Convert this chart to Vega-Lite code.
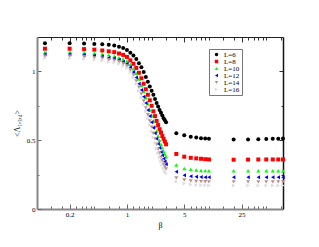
{
  "$schema": "https://vega.github.io/schema/vega-lite/v6.json",
  "width": 246,
  "height": 172,
  "autosize": "none",
  "padding": {"left": 37, "top": 37, "right": 36, "bottom": 38},
  "background": "white",
  "config": {
    "font": "Liberation Serif",
    "view": {"stroke": null},
    "axis": {"grid": false, "labelFont": "Liberation Serif", "titleFont": "Liberation Serif", "labelFontSize": 7, "titleFontSize": 8, "titleFontWeight": "normal", "labelColor": "#000", "titleColor": "#000"},
    "legend": {"labelFont": "Liberation Serif"}
  },
  "data": {"values": [
    {"L":"L=6","b":0.1,"v":1.205},{"L":"L=6","b":0.2,"v":1.205},{"L":"L=6","b":0.3,"v":1.203},{"L":"L=6","b":0.4,"v":1.2},{"L":"L=6","b":0.5,"v":1.198},{"L":"L=6","b":0.6,"v":1.194},{"L":"L=6","b":0.7,"v":1.188},{"L":"L=6","b":0.8,"v":1.18},{"L":"L=6","b":0.9,"v":1.17},{"L":"L=6","b":1.0,"v":1.155},
    {"L":"L=6","b":1.1,"v":1.135},{"L":"L=6","b":1.2,"v":1.115},{"L":"L=6","b":1.3,"v":1.09},{"L":"L=6","b":1.4,"v":1.06},{"L":"L=6","b":1.5,"v":1.03},{"L":"L=6","b":1.6,"v":0.995},{"L":"L=6","b":1.7,"v":0.96},{"L":"L=6","b":1.8,"v":0.925},{"L":"L=6","b":1.9,"v":0.89},{"L":"L=6","b":2.0,"v":0.86},
    {"L":"L=6","b":2.1,"v":0.83},{"L":"L=6","b":2.2,"v":0.8},{"L":"L=6","b":2.3,"v":0.77},{"L":"L=6","b":2.4,"v":0.745},{"L":"L=6","b":2.5,"v":0.72},{"L":"L=6","b":2.6,"v":0.7},{"L":"L=6","b":2.7,"v":0.68},{"L":"L=6","b":2.8,"v":0.66},{"L":"L=6","b":2.9,"v":0.645},{"L":"L=6","b":3.0,"v":0.63},
    {"L":"L=6","b":4,"v":0.55},{"L":"L=6","b":5,"v":0.536},{"L":"L=6","b":6,"v":0.525},{"L":"L=6","b":7,"v":0.52},{"L":"L=6","b":8,"v":0.515},{"L":"L=6","b":9,"v":0.512},{"L":"L=6","b":10,"v":0.51},{"L":"L=6","b":20,"v":0.505},{"L":"L=6","b":30,"v":0.505},{"L":"L=6","b":40,"v":0.507},{"L":"L=6","b":50,"v":0.508},{"L":"L=6","b":60,"v":0.51},{"L":"L=6","b":70,"v":0.511},{"L":"L=6","b":80,"v":0.512},

    {"L":"L=8","b":0.1,"v":1.165},{"L":"L=8","b":0.2,"v":1.165},{"L":"L=8","b":0.3,"v":1.162},{"L":"L=8","b":0.4,"v":1.158},{"L":"L=8","b":0.5,"v":1.152},{"L":"L=8","b":0.6,"v":1.146},{"L":"L=8","b":0.7,"v":1.14},{"L":"L=8","b":0.8,"v":1.13},{"L":"L=8","b":0.9,"v":1.12},{"L":"L=8","b":1.0,"v":1.105},
    {"L":"L=8","b":1.1,"v":1.08},{"L":"L=8","b":1.2,"v":1.055},{"L":"L=8","b":1.3,"v":1.025},{"L":"L=8","b":1.4,"v":0.99},{"L":"L=8","b":1.5,"v":0.95},{"L":"L=8","b":1.6,"v":0.91},{"L":"L=8","b":1.7,"v":0.87},{"L":"L=8","b":1.8,"v":0.83},{"L":"L=8","b":1.9,"v":0.79},{"L":"L=8","b":2.0,"v":0.75},
    {"L":"L=8","b":2.1,"v":0.71},{"L":"L=8","b":2.2,"v":0.675},{"L":"L=8","b":2.3,"v":0.64},{"L":"L=8","b":2.4,"v":0.61},{"L":"L=8","b":2.5,"v":0.58},{"L":"L=8","b":2.6,"v":0.555},{"L":"L=8","b":2.7,"v":0.53},{"L":"L=8","b":2.8,"v":0.51},{"L":"L=8","b":2.9,"v":0.49},{"L":"L=8","b":3.0,"v":0.47},
    {"L":"L=8","b":4,"v":0.4},{"L":"L=8","b":5,"v":0.38},{"L":"L=8","b":6,"v":0.372},{"L":"L=8","b":7,"v":0.368},{"L":"L=8","b":8,"v":0.365},{"L":"L=8","b":9,"v":0.362},{"L":"L=8","b":10,"v":0.36},{"L":"L=8","b":20,"v":0.358},{"L":"L=8","b":30,"v":0.359},{"L":"L=8","b":40,"v":0.36},{"L":"L=8","b":50,"v":0.36},{"L":"L=8","b":60,"v":0.36},{"L":"L=8","b":70,"v":0.36},{"L":"L=8","b":80,"v":0.36},

    {"L":"L=10","b":0.1,"v":1.14},{"L":"L=10","b":0.2,"v":1.14},{"L":"L=10","b":0.3,"v":1.136},{"L":"L=10","b":0.4,"v":1.132},{"L":"L=10","b":0.5,"v":1.126},{"L":"L=10","b":0.6,"v":1.12},{"L":"L=10","b":0.7,"v":1.11},{"L":"L=10","b":0.8,"v":1.1},{"L":"L=10","b":0.9,"v":1.09},{"L":"L=10","b":1.0,"v":1.075},
    {"L":"L=10","b":1.1,"v":1.05},{"L":"L=10","b":1.2,"v":1.02},{"L":"L=10","b":1.3,"v":0.985},{"L":"L=10","b":1.4,"v":0.945},{"L":"L=10","b":1.5,"v":0.9},{"L":"L=10","b":1.6,"v":0.855},{"L":"L=10","b":1.7,"v":0.81},{"L":"L=10","b":1.8,"v":0.765},{"L":"L=10","b":1.9,"v":0.72},{"L":"L=10","b":2.0,"v":0.68},
    {"L":"L=10","b":2.1,"v":0.64},{"L":"L=10","b":2.2,"v":0.6},{"L":"L=10","b":2.3,"v":0.565},{"L":"L=10","b":2.4,"v":0.53},{"L":"L=10","b":2.5,"v":0.5},{"L":"L=10","b":2.6,"v":0.47},{"L":"L=10","b":2.7,"v":0.445},{"L":"L=10","b":2.8,"v":0.42},{"L":"L=10","b":2.9,"v":0.4},{"L":"L=10","b":3.0,"v":0.38},
    {"L":"L=10","b":4,"v":0.32},{"L":"L=10","b":5,"v":0.295},{"L":"L=10","b":6,"v":0.288},{"L":"L=10","b":7,"v":0.283},{"L":"L=10","b":8,"v":0.28},{"L":"L=10","b":9,"v":0.279},{"L":"L=10","b":10,"v":0.278},{"L":"L=10","b":20,"v":0.278},{"L":"L=10","b":30,"v":0.278},{"L":"L=10","b":40,"v":0.278},{"L":"L=10","b":50,"v":0.278},{"L":"L=10","b":60,"v":0.278},{"L":"L=10","b":70,"v":0.278},{"L":"L=10","b":80,"v":0.278},

    {"L":"L=12","b":0.1,"v":1.125},{"L":"L=12","b":0.2,"v":1.125},{"L":"L=12","b":0.3,"v":1.121},{"L":"L=12","b":0.4,"v":1.116},{"L":"L=12","b":0.5,"v":1.11},{"L":"L=12","b":0.6,"v":1.1},{"L":"L=12","b":0.7,"v":1.095},{"L":"L=12","b":0.8,"v":1.085},{"L":"L=12","b":0.9,"v":1.07},{"L":"L=12","b":1.0,"v":1.055},
    {"L":"L=12","b":1.1,"v":1.03},{"L":"L=12","b":1.2,"v":0.995},{"L":"L=12","b":1.3,"v":0.955},{"L":"L=12","b":1.4,"v":0.91},{"L":"L=12","b":1.5,"v":0.865},{"L":"L=12","b":1.6,"v":0.815},{"L":"L=12","b":1.7,"v":0.77},{"L":"L=12","b":1.8,"v":0.72},{"L":"L=12","b":1.9,"v":0.675},{"L":"L=12","b":2.0,"v":0.63},
    {"L":"L=12","b":2.1,"v":0.59},{"L":"L=12","b":2.2,"v":0.55},{"L":"L=12","b":2.3,"v":0.51},{"L":"L=12","b":2.4,"v":0.475},{"L":"L=12","b":2.5,"v":0.445},{"L":"L=12","b":2.6,"v":0.415},{"L":"L=12","b":2.7,"v":0.39},{"L":"L=12","b":2.8,"v":0.365},{"L":"L=12","b":2.9,"v":0.345},{"L":"L=12","b":3.0,"v":0.325},
    {"L":"L=12","b":4,"v":0.27},{"L":"L=12","b":5,"v":0.246},{"L":"L=12","b":6,"v":0.238},{"L":"L=12","b":7,"v":0.235},{"L":"L=12","b":8,"v":0.232},{"L":"L=12","b":9,"v":0.231},{"L":"L=12","b":10,"v":0.23},{"L":"L=12","b":20,"v":0.23},{"L":"L=12","b":30,"v":0.23},{"L":"L=12","b":40,"v":0.23},{"L":"L=12","b":50,"v":0.23},{"L":"L=12","b":60,"v":0.23},{"L":"L=12","b":70,"v":0.23},{"L":"L=12","b":80,"v":0.23},

    {"L":"L=14","b":0.1,"v":1.11},{"L":"L=14","b":0.2,"v":1.11},{"L":"L=14","b":0.3,"v":1.106},{"L":"L=14","b":0.4,"v":1.1},{"L":"L=14","b":0.5,"v":1.095},{"L":"L=14","b":0.6,"v":1.085},{"L":"L=14","b":0.7,"v":1.08},{"L":"L=14","b":0.8,"v":1.07},{"L":"L=14","b":0.9,"v":1.055},{"L":"L=14","b":1.0,"v":1.04},
    {"L":"L=14","b":1.1,"v":1.01},{"L":"L=14","b":1.2,"v":0.975},{"L":"L=14","b":1.3,"v":0.93},{"L":"L=14","b":1.4,"v":0.885},{"L":"L=14","b":1.5,"v":0.835},{"L":"L=14","b":1.6,"v":0.785},{"L":"L=14","b":1.7,"v":0.735},{"L":"L=14","b":1.8,"v":0.685},{"L":"L=14","b":1.9,"v":0.64},{"L":"L=14","b":2.0,"v":0.595},
    {"L":"L=14","b":2.1,"v":0.55},{"L":"L=14","b":2.2,"v":0.51},{"L":"L=14","b":2.3,"v":0.47},{"L":"L=14","b":2.4,"v":0.435},{"L":"L=14","b":2.5,"v":0.405},{"L":"L=14","b":2.6,"v":0.375},{"L":"L=14","b":2.7,"v":0.35},{"L":"L=14","b":2.8,"v":0.325},{"L":"L=14","b":2.9,"v":0.305},{"L":"L=14","b":3.0,"v":0.29},
    {"L":"L=14","b":4,"v":0.225},{"L":"L=14","b":5,"v":0.21},{"L":"L=14","b":6,"v":0.203},{"L":"L=14","b":7,"v":0.2},{"L":"L=14","b":8,"v":0.199},{"L":"L=14","b":9,"v":0.198},{"L":"L=14","b":10,"v":0.197},{"L":"L=14","b":20,"v":0.197},{"L":"L=14","b":30,"v":0.197},{"L":"L=14","b":40,"v":0.197},{"L":"L=14","b":50,"v":0.197},{"L":"L=14","b":60,"v":0.197},{"L":"L=14","b":70,"v":0.197},{"L":"L=14","b":80,"v":0.197},

    {"L":"L=16","b":0.1,"v":1.095},{"L":"L=16","b":0.2,"v":1.095},{"L":"L=16","b":0.3,"v":1.09},{"L":"L=16","b":0.4,"v":1.085},{"L":"L=16","b":0.5,"v":1.08},{"L":"L=16","b":0.6,"v":1.07},{"L":"L=16","b":0.7,"v":1.065},{"L":"L=16","b":0.8,"v":1.055},{"L":"L=16","b":0.9,"v":1.04},{"L":"L=16","b":1.0,"v":1.025},
    {"L":"L=16","b":1.1,"v":0.995},{"L":"L=16","b":1.2,"v":0.955},{"L":"L=16","b":1.3,"v":0.91},{"L":"L=16","b":1.4,"v":0.86},{"L":"L=16","b":1.5,"v":0.81},{"L":"L=16","b":1.6,"v":0.76},{"L":"L=16","b":1.7,"v":0.71},{"L":"L=16","b":1.8,"v":0.66},{"L":"L=16","b":1.9,"v":0.61},{"L":"L=16","b":2.0,"v":0.565},
    {"L":"L=16","b":2.1,"v":0.52},{"L":"L=16","b":2.2,"v":0.48},{"L":"L=16","b":2.3,"v":0.44},{"L":"L=16","b":2.4,"v":0.405},{"L":"L=16","b":2.5,"v":0.375},{"L":"L=16","b":2.6,"v":0.345},{"L":"L=16","b":2.7,"v":0.32},{"L":"L=16","b":2.8,"v":0.295},{"L":"L=16","b":2.9,"v":0.275},{"L":"L=16","b":3.0,"v":0.26},
    {"L":"L=16","b":4,"v":0.2},{"L":"L=16","b":5,"v":0.186},{"L":"L=16","b":6,"v":0.178},{"L":"L=16","b":7,"v":0.175},{"L":"L=16","b":8,"v":0.173},{"L":"L=16","b":9,"v":0.172},{"L":"L=16","b":10,"v":0.171},{"L":"L=16","b":20,"v":0.17},{"L":"L=16","b":30,"v":0.17},{"L":"L=16","b":40,"v":0.17},{"L":"L=16","b":50,"v":0.17},{"L":"L=16","b":60,"v":0.17},{"L":"L=16","b":70,"v":0.17},{"L":"L=16","b":80,"v":0.17}
  ]},
  "layer": [
    {
      "mark": {"type": "point", "filled": true, "size": 16, "opacity": 1, "strokeWidth": 0},
      "encoding": {
        "x": {"field": "b", "type": "quantitative",
          "scale": {"type": "log", "domain": [0.08, 80], "nice": false},
          "axis": {"orient": "bottom", "title": "β", "titlePadding": 2,
            "values": [0.12,0.16,0.2,0.24,0.28,0.32,0.36,0.4,0.6,0.8,1,1.2,1.4,1.6,1.8,2,3,4,5,6,7,8,9,10,15,20,25,30,35,40,45,50,75],
            "labelExpr": "datum.value == 0.2 ? '0.2' : datum.value == 1 ? '1' : datum.value == 5 ? '5' : datum.value == 25 ? '25' : ''",
            "labelPadding": 6, "labelFlush": false, "labelOverlap": false,
            "tickSize": {"condition": {"test": "datum.value == 0.2 || datum.value == 1 || datum.value == 5 || datum.value == 25", "value": -5}, "value": -3},
            "domainColor": "#888", "domainWidth": 2, "tickColor": "#666", "tickWidth": 1}},
        "y": {"field": "v", "type": "quantitative",
          "scale": {"domain": [0, 1.25], "nice": false, "zero": false},
          "axis": {"orient": "left", "title": "<Λ₁,₃,₄>", "titlePadding": 5,
            "values": [0, 0.25, 0.5, 0.75, 1],
            "labelExpr": "datum.value == 0 ? '0' : datum.value == 0.5 ? '0.5' : datum.value == 1 ? '1' : ''",
            "labelPadding": 6, "labelOverlap": false, "labelFlush": false,
            "tickSize": {"condition": {"test": "datum.value == 0 || datum.value == 0.5 || datum.value == 1", "value": -4}, "value": -2},
            "domainColor": "#888", "domainWidth": 2, "tickColor": "#666", "tickWidth": 1}},
        "color": {"field": "L", "type": "nominal",
          "scale": {"domain": ["L=6","L=8","L=10","L=12","L=14","L=16"], "range": ["#000000","#ff0000","#00ff00","#0000ff","#bc8f8f","#dcdcdc"]},
          "legend": {"title": null, "orient": "none", "legendX": 172, "legendY": 12, "padding": 2, "symbolSize": 12, "labelFontSize": 7, "labelOffset": 4, "symbolOffset": 2, "rowPadding": -1.4, "clipHeight": 7, "strokeColor": "#777", "fillColor": "white", "symbolStrokeWidth": 0, "labelLimit": 40}},
        "shape": {"field": "L", "type": "nominal",
          "scale": {"domain": ["L=6","L=8","L=10","L=12","L=14","L=16"], "range": ["circle","square","triangle-up","triangle-left","triangle-down","triangle-right"]},
          "legend": {"title": null, "orient": "none", "legendX": 172, "legendY": 12, "padding": 2, "symbolSize": 12, "labelFontSize": 7, "labelOffset": 4, "symbolOffset": 2, "rowPadding": -1.4, "clipHeight": 7, "strokeColor": "#777", "fillColor": "white", "symbolStrokeWidth": 0, "labelLimit": 40}}
      }
    },
    {
      "mark": {"type": "point", "opacity": 0},
      "encoding": {
        "x": {"field": "b", "type": "quantitative",
          "axis": {"orient": "top", "title": null, "labels": false,
            "values": [0.12,0.16,0.2,0.24,0.28,0.32,0.36,0.4,0.6,0.8,1,1.2,1.4,1.6,1.8,2,3,4,5,6,7,8,9,10,15,20,25,30,35,40,45,50,75],
            "tickSize": {"condition": {"test": "datum.value == 0.2 || datum.value == 1 || datum.value == 5 || datum.value == 25", "value": -5}, "value": -3},
            "domainColor": "#222", "domainWidth": 1, "tickColor": "#333", "tickWidth": 1}},
        "y": {"field": "v", "type": "quantitative",
          "axis": {"orient": "right", "title": null, "labels": false,
            "values": [0.25, 0.5, 0.75, 1],
            "tickSize": {"condition": {"test": "datum.value == 0.5 || datum.value == 1", "value": -4}, "value": -2},
            "domainColor": "#111", "domainWidth": 1.5, "tickColor": "#333", "tickWidth": 1}}
      }
    }
  ],
  "resolve": {"axis": {"x": "independent", "y": "independent"}}
}
